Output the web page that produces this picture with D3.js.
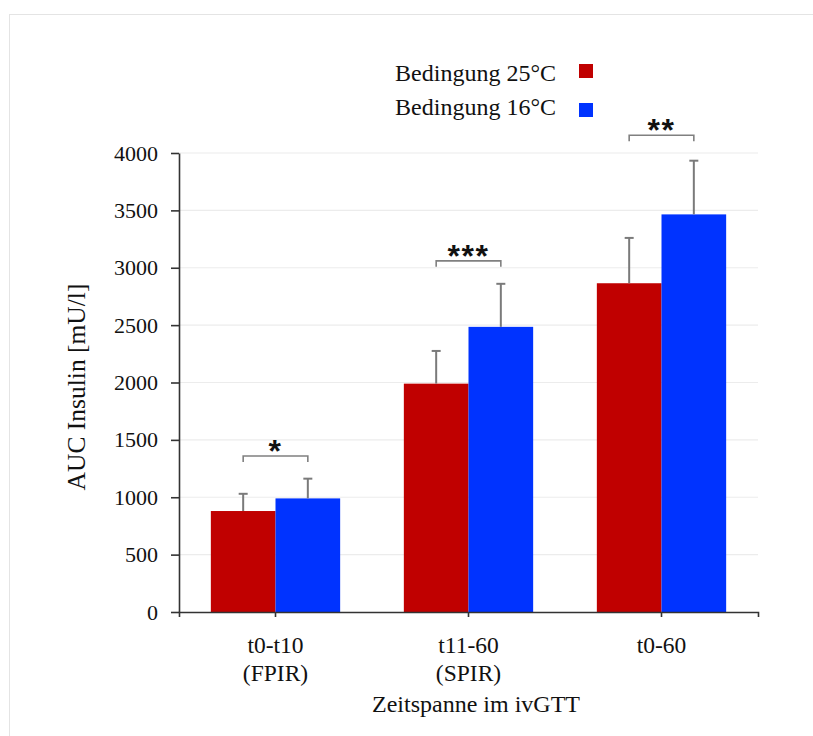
<!DOCTYPE html>
<html>
<head>
<meta charset="utf-8">
<title>AUC Insulin</title>
<script src="https://d3js.org/d3.v7.min.js"></script>
<style>
body { margin: 0; background: #fff; }
text { font-family: "Liberation Serif", "Times New Roman", serif; fill: #111; }
.stars { font-family: "Liberation Sans", Arial, sans-serif; font-weight: bold; }
</style>
</head>
<body>
<div id="chart"></div>
<script>
// data
var groups = ["t0-t10", "t11-60", "t0-60"];
var groupLines = [["t0-t10", "(FPIR)"], ["t11-60", "(SPIR)"], ["t0-60"]];
var series = ["Bedingung 25°C", "Bedingung 16°C"];
var colors = ["#c00000", "#0033ff"];
var mean25 = [880, 1990, 2865];
var mean16 = [990, 2485, 3465];
var err25 = [150, 285, 395];
var err16 = [172, 375, 468];
var stars = ["*", "***", "**"];
var bracketAt = [1360, 3060, 4155];
var yTicks = [0, 500, 1000, 1500, 2000, 2500, 3000, 3500, 4000];

var W = 813, H = 736;
var plotL = 179, plotR = 758, plotT = 153, plotB = 612;

var svg = d3.select("#chart").append("svg")
  .attr("width", W).attr("height", H);

// light frame round the figure
svg.append("rect")
  .attr("x", 9.5).attr("y", 14.5)
  .attr("width", 900).attr("height", 900)
  .attr("fill", "none").attr("stroke", "#e4e4e4");

var x = d3.scaleBand().domain(groups)
  .range([plotL, plotR]).paddingInner(0.33).paddingOuter(0.165);
var xs = d3.scaleBand().domain([0, 1]).range([0, x.bandwidth()]);
var y = d3.scaleLinear().domain([0, 4000]).range([plotB, plotT]);

// gridlines
svg.append("g").selectAll("line")
  .data(yTicks.slice(1))
  .enter().append("line")
    .attr("x1", plotL).attr("x2", plotR)
    .attr("y1", function(d) { return y(d); })
    .attr("y2", function(d) { return y(d); })
    .attr("stroke", "#ececec").attr("stroke-width", 1.2);

// bars
var rows = [];
groups.forEach(function(g, i) {
  rows.push({g: g, s: 0, v: mean25[i], e: err25[i]});
  rows.push({g: g, s: 1, v: mean16[i], e: err16[i]});
});

svg.append("g").selectAll("rect")
  .data(rows)
  .enter().append("rect")
    .attr("x", function(d) { return x(d.g) + xs(d.s); })
    .attr("y", function(d) { return y(d.v); })
    .attr("width", xs.bandwidth())
    .attr("height", function(d) { return y(0) - y(d.v); })
    .attr("fill", function(d) { return colors[d.s]; });

// error bars, upper only
var eb = svg.append("g").attr("stroke", "#7a7a7a").attr("stroke-width", 2);
rows.forEach(function(d) {
  var cx = x(d.g) + xs(d.s) + xs.bandwidth() / 2;
  eb.append("line").attr("x1", cx).attr("x2", cx)
    .attr("y1", y(d.v)).attr("y2", y(d.v + d.e));
  eb.append("line").attr("x1", cx - 4.5).attr("x2", cx + 4.5)
    .attr("y1", y(d.v + d.e)).attr("y2", y(d.v + d.e));
});

// significance brackets
groups.forEach(function(g, i) {
  var x1 = x(g) + xs(0) + xs.bandwidth() / 2;
  var x2 = x(g) + xs(1) + xs.bandwidth() / 2;
  var by = y(bracketAt[i]);
  svg.append("path")
    .attr("d", "M" + x1 + "," + (by + 6) + "V" + by + "H" + x2 + "V" + (by + 6))
    .attr("fill", "none").attr("stroke", "#808080").attr("stroke-width", 1.6);
  svg.append("text").attr("class", "stars")
    .attr("x", (x1 + x2) / 2).attr("y", by + 6)
    .attr("text-anchor", "middle")
    .attr("font-size", 32).attr("letter-spacing", 1.5)
    .text(stars[i]);
});

// y axis
var yAxis = svg.append("g")
  .attr("transform", "translate(" + plotL + ",0)")
  .call(d3.axisLeft(y).tickValues(yTicks).tickFormat(d3.format("d"))
    .tickSize(8).tickSizeOuter(0).tickPadding(13));
yAxis.selectAll("path, line").attr("stroke", "#333").attr("stroke-width", 1.6);
yAxis.selectAll("text")
  .attr("font-size", 22).attr("font-family", "Liberation Serif").attr("fill", "#222");

// x axis
var xAxis = svg.append("g")
  .attr("transform", "translate(0," + plotB + ")")
  .call(d3.axisBottom(x).tickSize(5).tickSizeOuter(5).tickFormat(""));
xAxis.selectAll("path, line").attr("stroke", "#333").attr("stroke-width", 1.6);

groupLines.forEach(function(lines, i) {
  lines.forEach(function(t, j) {
    svg.append("text")
      .attr("x", x(groups[i]) + x.bandwidth() / 2)
      .attr("y", 653 + j * 28)
      .attr("text-anchor", "middle")
      .attr("font-size", 23.5)
      .text(t);
  });
});

svg.append("text")
  .attr("x", 476).attr("y", 712)
  .attr("text-anchor", "middle").attr("font-size", 24)
  .text("Zeitspanne im ivGTT");

svg.append("text")
  .attr("transform", "translate(85,387)rotate(-90)")
  .attr("text-anchor", "middle").attr("font-size", 25.5)
  .text("AUC Insulin [mU/l]");

// legend
series.forEach(function(s, i) {
  var ly = 81 + i * 34;
  svg.append("text")
    .attr("x", 556).attr("y", ly)
    .attr("text-anchor", "end").attr("font-size", 24)
    .text(s);
  svg.append("rect")
    .attr("x", 579).attr("y", 64 + i * 39)
    .attr("width", 14).attr("height", 14)
    .attr("fill", colors[i]);
});
</script>
</body>
</html>
